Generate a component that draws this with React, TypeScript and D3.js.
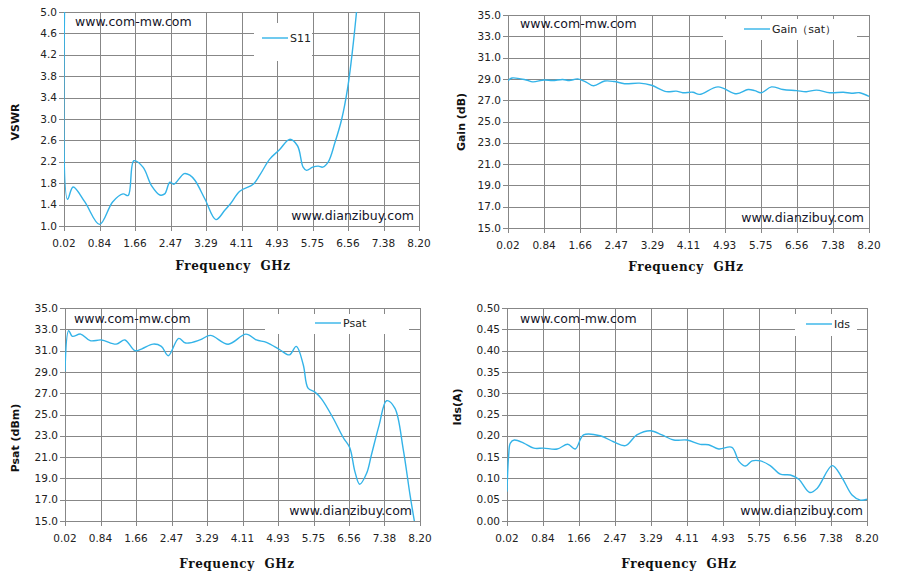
import React from 'react';
import * as d3 from 'd3';

// frequency tick labels shared by all four charts
const xTickLabels = ['0.02', '0.84', '1.66', '2.47', '3.29', '4.11', '4.93', '5.75', '6.56', '7.38', '8.20'];

// VSWR (S11)
const vswrFreq = [0.06, 0.1, 0.23, 0.5, 0.84, 1.14, 1.38, 1.5, 1.63, 1.84, 2.04, 2.23, 2.34, 2.46, 2.55, 2.79, 2.92, 3.04, 3.27, 3.52, 3.73, 3.86, 4.07, 4.38, 4.53, 4.76, 4.99, 5.22, 5.4, 5.53, 5.61, 5.75, 5.88, 5.98, 6.11, 6.26, 6.42, 6.56, 6.67, 6.76, 6.9];
const vswrValue = [6.5, 1.5, 1.73, 1.45, 1.03, 1.45, 1.6, 1.57, 2.22, 2.1, 1.75, 1.58, 1.6, 1.82, 1.78, 1.98, 1.95, 1.85, 1.5, 1.12, 1.3, 1.42, 1.65, 1.78, 1.95, 2.25, 2.43, 2.62, 2.5, 2.1, 2.04, 2.1, 2.12, 2.1, 2.2, 2.55, 3.0, 3.6, 4.3, 5.0, 6.2];

// Gain (sat)
const gainFreq = [0.02, 0.11, 0.43, 0.58, 0.84, 1.03, 1.26, 1.41, 1.6, 1.79, 1.96, 2.21, 2.43, 2.66, 3.0, 3.27, 3.61, 3.83, 3.98, 4.21, 4.36, 4.78, 5.2, 5.46, 5.61, 5.76, 5.99, 6.25, 6.56, 6.78, 7.01, 7.31, 7.62, 7.8, 7.99, 8.2];
const gainValue = [28.83, 29.08, 28.9, 28.72, 28.9, 28.85, 28.95, 28.85, 29.0, 28.7, 28.35, 28.8, 28.75, 28.55, 28.6, 28.4, 27.8, 27.85, 27.7, 27.75, 27.55, 28.25, 27.6, 28.0, 27.9, 27.7, 28.25, 28.0, 27.9, 27.8, 27.95, 27.7, 27.75, 27.65, 27.7, 27.35];

// Psat
const psatFreq = [0.02, 0.105, 0.19, 0.38, 0.6, 0.86, 1.2, 1.4, 1.63, 1.78, 2.05, 2.24, 2.4, 2.64, 2.8, 3.13, 3.37, 3.78, 4.19, 4.43, 4.66, 4.97, 5.19, 5.35, 5.51, 5.62, 5.78, 5.93, 6.2, 6.43, 6.58, 6.7, 6.81, 6.97, 7.08, 7.26, 7.43, 7.62, 7.81, 7.97, 8.07];
const psatValue = [29.04, 32.87, 32.34, 32.55, 31.93, 32.0, 31.61, 32.0, 31.0, 31.14, 31.61, 31.4, 30.52, 32.15, 31.71, 32.0, 32.43, 31.6, 32.55, 32.0, 31.77, 31.08, 30.6, 31.4, 29.67, 27.48, 27.1, 26.47, 24.65, 22.84, 21.9, 19.64, 18.45, 19.48, 21.2, 24.03, 26.29, 25.6, 21.83, 17.45, 15.0];

// Ids
const idsFreq = [0.02, 0.058, 0.096, 0.187, 0.4, 0.63, 0.85, 1.16, 1.4, 1.57, 1.76, 2.14, 2.44, 2.71, 2.97, 3.28, 3.54, 3.81, 4.11, 4.41, 4.6, 4.83, 5.13, 5.29, 5.44, 5.59, 5.78, 6.0, 6.23, 6.46, 6.65, 6.9, 7.07, 7.41, 7.63, 7.86, 8.05, 8.2];
const idsValue = [0.069, 0.155, 0.183, 0.19, 0.183, 0.171, 0.171, 0.169, 0.18, 0.169, 0.202, 0.2, 0.186, 0.177, 0.202, 0.212, 0.202, 0.19, 0.19, 0.18, 0.179, 0.169, 0.173, 0.14, 0.129, 0.141, 0.141, 0.13, 0.11, 0.108, 0.098, 0.067, 0.077, 0.13, 0.102, 0.061, 0.049, 0.051];

const vswrTicks = ['1.0', '1.4', '1.8', '2.2', '2.6', '3.0', '3.4', '3.8', '4.2', '4.6', '5.0'];
const dbTicks = ['15.0', '17.0', '19.0', '21.0', '23.0', '25.0', '27.0', '29.0', '31.0', '33.0', '35.0'];
const idsTicks = ['0.00', '0.05', '0.10', '0.15', '0.20', '0.25', '0.30', '0.35', '0.40', '0.45', '0.50'];

const LINE = '#33b3e8';
const GRID = '#878787';

interface Legend {
  x: number;
  y: number;
  w: number;
  h: number;
  lineX: number;
  lineY: number;
  text: string;
}

interface PanelProps {
  id: string;
  box: { left: number; right: number; top: number; bottom: number };
  freq: number[];
  values: number[];
  yTicks: string[];
  yLabel: string;
  yLabelPos: [number, number];
  xLabelPos: [number, number];
  legend: Legend;
  mark1: [number, number];
  mark2: [number, number];
}

const Panel: React.FC<PanelProps> = (p) => {
  const { left, right, top, bottom } = p.box;
  const yNums = p.yTicks.map(Number);
  const x = d3.scaleLinear().domain([0.02, 8.2]).range([left, right]);
  const y = d3.scaleLinear().domain([yNums[0], yNums[yNums.length - 1]]).range([bottom, top]);
  const xTicks = d3.range(xTickLabels.length).map((i) => 0.02 + i * 0.818);
  const pts = p.freq.map((f, i) => [f, p.values[i]] as [number, number]);
  const line = d3
    .line<[number, number]>()
    .x((d) => x(d[0]))
    .y((d) => y(d[1]))
    .curve(d3.curveCatmullRom.alpha(0.5));
  const r = (v: number) => Math.round(v) + 0.5;
  const lg = p.legend;

  return (
    <g>
      <clipPath id={p.id}>
        <rect x={left} y={top} width={right - left + 1} height={bottom - top} />
      </clipPath>
      {yNums.map((v, i) => (
        <line key={'h' + i} x1={left - 5} x2={right + 1} y1={r(y(v))} y2={r(y(v))} stroke={GRID} />
      ))}
      {xTicks.map((v, i) => (
        <line key={'v' + i} x1={r(x(v))} x2={r(x(v))} y1={top} y2={bottom + 5} stroke={GRID} />
      ))}
      {p.yTicks.map((t, i) => (
        <text key={'yt' + i} x={left - 7} y={y(yNums[i])} dy="0.35em" textAnchor="end" fontSize={10.5} fill="#222">
          {t}
        </text>
      ))}
      {xTickLabels.map((t, i) => (
        <text key={'xt' + i} x={x(xTicks[i])} y={bottom + 17} dy="0.35em" textAnchor="middle" fontSize={10.5} fill="#222">
          {t}
        </text>
      ))}
      <rect x={lg.x} y={lg.y} width={lg.w} height={lg.h} fill="#fff" />
      <line x1={lg.lineX} x2={lg.lineX + 26} y1={lg.lineY} y2={lg.lineY} stroke={LINE} strokeWidth={1.4} />
      <text x={lg.lineX + 28} y={lg.lineY} dy="0.35em" fontSize={11} fill="#222">
        {lg.text}
      </text>
      <path d={line(pts) ?? ''} fill="none" stroke={LINE} strokeWidth={1.4} clipPath={`url(#${p.id})`} />
      <text x={p.mark1[0]} y={p.mark1[1]} dy="0.35em" fontSize={12.5} fill="#141428">
        www.com-mw.com
      </text>
      <text x={p.mark2[0]} y={p.mark2[1]} dy="0.35em" textAnchor="end" fontSize={12.5} fill="#141428">
        www.dianzibuy.com
      </text>
      <text
        transform={`translate(${p.yLabelPos[0]},${p.yLabelPos[1]}) rotate(-90)`}
        dy="0.35em"
        textAnchor="middle"
        fontSize={11}
        fontWeight="bold"
        fill="#111"
      >
        {p.yLabel}
      </text>
      <text
        x={p.xLabelPos[0]}
        y={p.xLabelPos[1]}
        dy="0.35em"
        textAnchor="middle"
        fontSize={12}
        fontWeight="bold"
        letterSpacing={0.6}
        wordSpacing={5}
        fontFamily="'DejaVu Serif', serif"
        fill="#111"
      >
        Frequency GHz
      </text>
    </g>
  );
};

export default function App() {
  return (
    <svg
      width={903}
      height={584}
      style={{ position: 'absolute', left: 0, top: 0, background: '#fff' }}
      fontFamily="'DejaVu Sans', Verdana, sans-serif"
    >
      <Panel
        id="c1"
        box={{ left: 64, right: 419, top: 12, bottom: 226 }}
        freq={vswrFreq}
        values={vswrValue}
        yTicks={vswrTicks}
        yLabel="VSWR"
        yLabelPos={[15, 122]}
        xLabelPos={[233, 266]}
        legend={{ x: 254, y: 23, w: 58, h: 38, lineX: 262, lineY: 38, text: 'S11' }}
        mark1={[75, 22]}
        mark2={[414, 216]}
      />
      <Panel
        id="c2"
        box={{ left: 508, right: 869, top: 15, bottom: 228 }}
        freq={gainFreq}
        values={gainValue}
        yTicks={dbTicks}
        yLabel="Gain (dB)"
        yLabelPos={[461, 122]}
        xLabelPos={[686, 267]}
        legend={{ x: 723, y: 19, w: 134, h: 21, lineX: 744, lineY: 29, text: 'Gain（sat）' }}
        mark1={[520, 24]}
        mark2={[864, 218]}
      />
      <Panel
        id="c3"
        box={{ left: 65, right: 420, top: 308, bottom: 521 }}
        freq={psatFreq}
        values={psatValue}
        yTicks={dbTicks}
        yLabel="Psat (dBm)"
        yLabelPos={[15, 438]}
        xLabelPos={[237, 564]}
        legend={{ x: 265, y: 314, w: 144, h: 20, lineX: 315, lineY: 323, text: 'Psat' }}
        mark1={[74, 319]}
        mark2={[412, 511]}
      />
      <Panel
        id="c4"
        box={{ left: 507, right: 867, top: 308, bottom: 521 }}
        freq={idsFreq}
        values={idsValue}
        yTicks={idsTicks}
        yLabel="Ids(A)"
        yLabelPos={[457, 407]}
        xLabelPos={[679, 564]}
        legend={{ x: 795, y: 314, w: 62, h: 22, lineX: 806, lineY: 324, text: 'Ids' }}
        mark1={[520, 319]}
        mark2={[863, 511]}
      />
    </svg>
  );
}
